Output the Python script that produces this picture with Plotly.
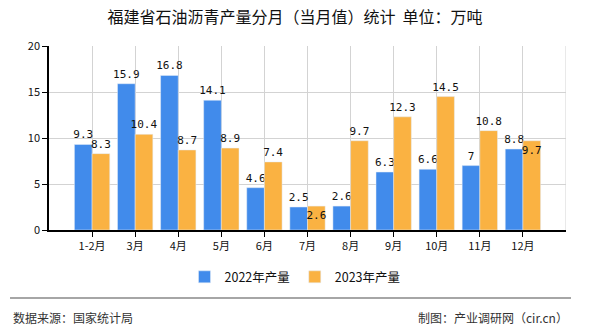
import plotly.graph_objects as go

categories = ["1-2月", "3月", "4月", "5月", "6月", "7月", "8月", "9月", "10月", "11月", "12月"]
values_2022 = [9.3, 15.9, 16.8, 14.1, 4.6, 2.5, 2.6, 6.3, 6.6, 7, 8.8]
values_2023 = [8.3, 10.4, 8.7, 8.9, 7.4, 2.6, 9.7, 12.3, 14.5, 10.8, 9.7]
series_names = ["2022年产量", "2023年产量"]
title_text = "福建省石油沥青产量分月（当月值）统计  单位：万吨"
source_left = "数据来源：国家统计局"
source_right = "制图：产业调研网（cir.cn）"

xpos = list(range(1, len(categories) + 1))
font_family = "Noto Sans CJK SC, Noto Sans, sans-serif"
label_font = dict(size=11, color="#111", family="DejaVu Sans Mono")
bw = 0.41

# 2023 labels that collide with neighbours sit just inside the bar top, as in the reference
pos_2023 = ["outside"] * len(values_2023)
pos_2023[5] = "inside"
pos_2023[10] = "inside"

fig = go.Figure()
fig.add_trace(go.Bar(
    x=xpos, y=values_2022, name=series_names[0], marker_color="#418BEB",
    width=bw, offset=-bw, text=[str(v) for v in values_2022],
    textposition="outside", cliponaxis=False, constraintext="none", textangle=0,
    textfont=label_font,
))
fig.add_trace(go.Bar(
    x=xpos, y=values_2023, name=series_names[1], marker_color="#FAB242",
    width=bw, offset=0, text=[str(v) for v in values_2023],
    textposition=pos_2023, cliponaxis=False, constraintext="none", textangle=0,
    insidetextanchor="end", textfont=label_font, insidetextfont=label_font,
    outsidetextfont=label_font,
))

fig.update_layout(
    width=590, height=330,
    margin=dict(l=49, r=24, t=46, b=100, autoexpand=False),
    plot_bgcolor="white", paper_bgcolor="white",
    font=dict(family=font_family, size=11, color="#111"),
    title=dict(text=title_text, x=0.5, xref="container", y=0.947, yref="container",
               xanchor="center", yanchor="middle", font=dict(size=16, color="#111")),
    showlegend=True,
    legend=dict(orientation="h", x=0.5, xanchor="center", xref="container",
                y=0.16, yref="container", yanchor="middle",
                font=dict(size=12.5), traceorder="normal"),
    uniformtext=dict(mode=False),
)
fig.update_xaxes(
    range=[0, 12], tickmode="array", tickvals=xpos, ticktext=categories,
    showgrid=True, gridcolor="#d3d3d3", gridwidth=1,
    showline=True, linecolor="#000", linewidth=1.5,
    ticks="outside", ticklen=5, tickcolor="#000", zeroline=False,
    tickfont=dict(size=11),
)
fig.update_yaxes(
    range=[0, 20], dtick=5, showgrid=True, gridcolor="#d3d3d3", gridwidth=1,
    showline=True, linecolor="#000", linewidth=1.5,
    ticks="outside", ticklen=5, tickcolor="#000", zeroline=False,
    tickfont=dict(size=11),
)
# right edge grid line
fig.add_shape(type="line", xref="x", yref="paper", x0=12, x1=12, y0=0, y1=1,
              line=dict(color="#d3d3d3", width=1), layer="below")
# footer separator
fig.add_shape(type="line", xref="paper", yref="paper", x0=-0.0754, x1=1.0097,
              y0=-0.37, y1=-0.37, line=dict(color="#888", width=1.5))
fig.add_annotation(text=source_left, xref="paper", yref="paper", x=-0.0735, y=-0.473,
                   xanchor="left", yanchor="middle", showarrow=False,
                   font=dict(size=12, color="#333"))
fig.add_annotation(text=source_right, xref="paper", yref="paper", x=1.008, y=-0.473,
                   xanchor="right", yanchor="middle", showarrow=False,
                   font=dict(size=12, color="#333"))

fig.write_html("out.html")
